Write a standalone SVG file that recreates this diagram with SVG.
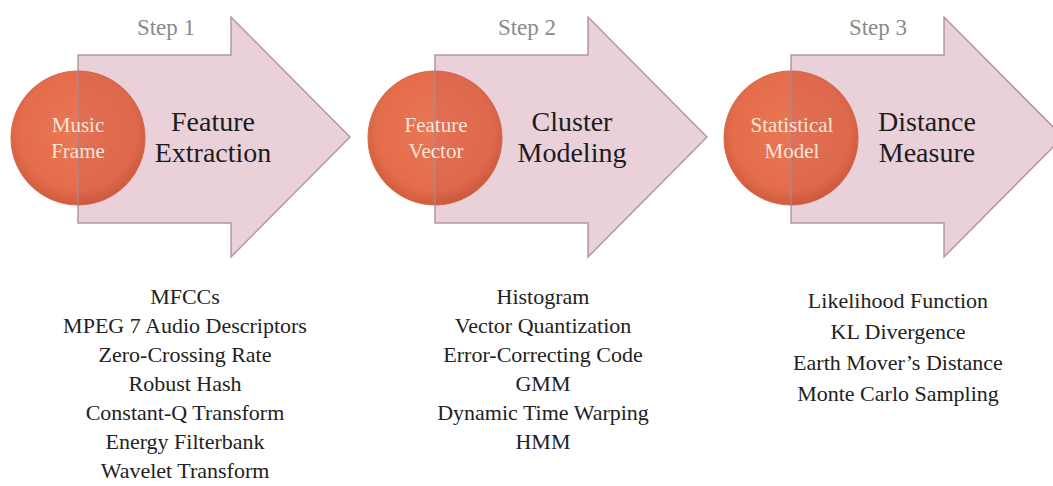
<svg xmlns="http://www.w3.org/2000/svg" width="1053" height="486" viewBox="0 0 1053 486">
  <defs>
    <radialGradient id="ball" cx="50%" cy="45%" r="55%">
      <stop offset="0" stop-color="#ea7755"/>
      <stop offset="0.8" stop-color="#e46d4b"/>
      <stop offset="1" stop-color="#cf5c3d"/>
    </radialGradient>
    <path id="arrowShape" d="M0,55 L153,55 L153,17 L272,137 L153,257 L153,223 L0,223 Z"/>
  </defs>
  <style>
    text { font-family: "Liberation Serif", "Times New Roman", serif; text-anchor: middle; }
    .step { font-size: 23px; fill: #8a8a8a; }
    .head { font-size: 28px; fill: #1c1c1c; }
    .ctext { font-size: 21px; fill: #fbe6d8; }
    .list { font-size: 22px; fill: #222222; }
    .ball { fill: url(#ball); stroke: #d86a4c; stroke-width: 1; }
    .arrowBase { fill: #f1dde3; stroke: none; }
    .arrow { fill: #8a3050; fill-opacity: 0.07; stroke: #a88893; stroke-width: 1.5; stroke-opacity: 0.85; }
  </style>
  <rect width="1053" height="486" fill="#ffffff"/>

  <g id="step1">
    <use href="#arrowShape" class="arrowBase" x="78"/>
    <circle class="ball" cx="78" cy="138" r="67"/>
    <use href="#arrowShape" class="arrow" x="78"/>
    <text class="step" x="166" y="35">Step 1</text>
    <text class="ctext" x="78" y="132">Music</text>
    <text class="ctext" x="78" y="158">Frame</text>
    <text class="head" x="213" y="131">Feature</text>
    <text class="head" x="213" y="162">Extraction</text>
  </g>

  <g id="step2">
    <use href="#arrowShape" class="arrowBase" x="435"/>
    <circle class="ball" cx="435" cy="138" r="67"/>
    <use href="#arrowShape" class="arrow" x="435"/>
    <text class="step" x="527" y="35">Step 2</text>
    <text class="ctext" x="436" y="132">Feature</text>
    <text class="ctext" x="436" y="158">Vector</text>
    <text class="head" x="572" y="131">Cluster</text>
    <text class="head" x="572" y="162">Modeling</text>
  </g>

  <g id="step3">
    <use href="#arrowShape" class="arrowBase" x="791"/>
    <circle class="ball" cx="791" cy="138" r="67"/>
    <use href="#arrowShape" class="arrow" x="791"/>
    <text class="step" x="878" y="35">Step 3</text>
    <text class="ctext" x="792" y="132">Statistical</text>
    <text class="ctext" x="792" y="158">Model</text>
    <text class="head" x="927" y="131">Distance</text>
    <text class="head" x="927" y="162">Measure</text>
  </g>

  <g id="list1">
    <text class="list" x="185" y="304">MFCCs</text>
    <text class="list" x="185" y="333">MPEG 7 Audio Descriptors</text>
    <text class="list" x="185" y="362">Zero-Crossing Rate</text>
    <text class="list" x="185" y="391">Robust Hash</text>
    <text class="list" x="185" y="420">Constant-Q Transform</text>
    <text class="list" x="185" y="449">Energy Filterbank</text>
    <text class="list" x="185" y="478">Wavelet Transform</text>
  </g>

  <g id="list2">
    <text class="list" x="543" y="304">Histogram</text>
    <text class="list" x="543" y="333">Vector Quantization</text>
    <text class="list" x="543" y="362">Error-Correcting Code</text>
    <text class="list" x="543" y="391">GMM</text>
    <text class="list" x="543" y="420">Dynamic Time Warping</text>
    <text class="list" x="543" y="449">HMM</text>
  </g>

  <g id="list3">
    <text class="list" x="898" y="308">Likelihood Function</text>
    <text class="list" x="898" y="339">KL Divergence</text>
    <text class="list" x="898" y="370">Earth Mover’s Distance</text>
    <text class="list" x="898" y="401">Monte Carlo Sampling</text>
  </g>

  <g id="connectors"></g>
</svg>
